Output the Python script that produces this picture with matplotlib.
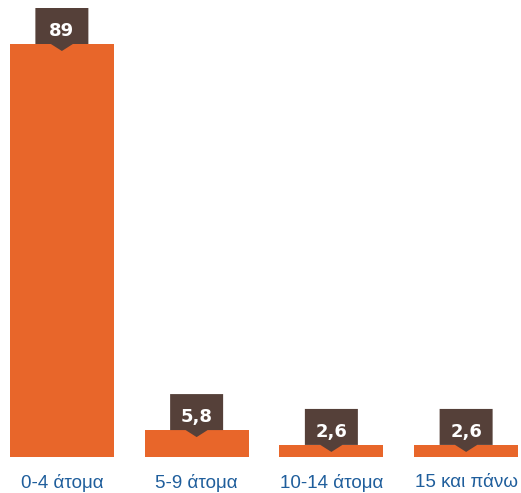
import matplotlib.pyplot as plt
from matplotlib.patches import Polygon
from matplotlib.transforms import ScaledTranslation

categories = ['0-4 άτομα', '5-9 άτομα', '10-14 άτομα', '15 και πάνω']
values = [89, 5.8, 2.6, 2.6]
labels = ['89', '5,8', '2,6', '2,6']

orange = '#E8662A'
brown = '#554039'
blue = '#1F5E9C'

fig = plt.figure(figsize=(5.21, 4.93), dpi=100)
ax = fig.add_axes([10 / 521, 1 - 457 / 493, 508 / 521, (457 - 44) / 493])

x = range(len(values))
ax.bar(x, values, width=0.77, color=orange)
ax.set_xlim(-0.385, len(values) - 1 + 0.385)
ax.set_ylim(0, 89)

# label boxes with a downward pointer, sized in inches around the bar top
for xi, v, lab in zip(x, values, labels):
    t = fig.dpi_scale_trans + ScaledTranslation(xi, v, ax.transData)
    verts = [(-0.265, 0.36), (0.265, 0.36), (0.265, 0.0), (0.11, 0.0),
             (0.0, -0.07), (-0.11, 0.0), (-0.265, 0.0)]
    ax.add_patch(Polygon(verts, closed=True, facecolor=brown, edgecolor='none',
                         transform=t, clip_on=False, zorder=3))
    ax.text(0, 0.13, lab, transform=t, ha='center', va='center', color='white',
            fontsize=13, fontweight='bold', family='DejaVu Sans', zorder=4)

ax.set_xticks(list(x))
ax.set_xticklabels(categories, color=blue, fontsize=13.5, family='Liberation Sans')
ax.tick_params(axis='x', length=0, pad=12)
ax.set_yticks([])
for s in ax.spines.values():
    s.set_visible(False)

plt.savefig('out.png', dpi=100)
